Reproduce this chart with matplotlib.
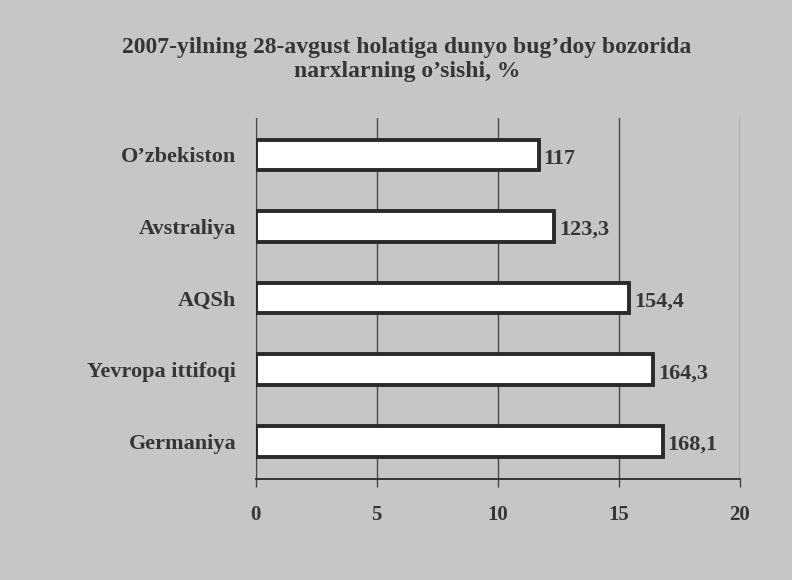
import numpy as np
import matplotlib.pyplot as plt

# Data
countries = ["O’zbekiston", "Avstraliya", "AQSh", "Yevropa ittifoqi", "Germaniya"]
growth = [117, 123.3, 154.4, 164.3, 168.1]
value_labels = ["117", "123,3", "154,4", "164,3", "168,1"]
x_ticks = [0, 5, 10, 15, 20]

bg = "#c6c6c6"
ink = "#363636"
plt.rcParams["font.family"] = ["Liberation Serif", "DejaVu Serif"]
plt.rcParams["font.weight"] = "bold"

fig = plt.figure(figsize=(7.92, 5.8), dpi=100, facecolor=bg)
ax = fig.add_axes([0.323, 0.174, 0.611, 0.623], facecolor=bg)

# bar lengths on the axis are the values scaled by 10
lengths = np.array(growth) / 10
pos = np.arange(len(countries))
ax.barh(pos, lengths, height=0.43, color="white", edgecolor="#2a2a2a", linewidth=2.8, zorder=3)

for p, l, txt in zip(pos, lengths, value_labels):
    ax.text(l + 0.2, p + 0.05, txt, va="center", ha="left", fontsize=16,
            fontweight="bold", color=ink)

ax.set_xlim(0, 20)
ax.set_ylim(4.53, -0.52)
ax.set_xticks(x_ticks)
ax.set_yticks(pos)
ax.set_yticklabels(countries)
ax.tick_params(axis="y", length=0, pad=14, labelsize=16, labelcolor=ink)
ax.tick_params(axis="x", length=6, width=1, pad=13, labelsize=15, labelcolor=ink,
               color="#444444")

ax.xaxis.grid(True, color="#4a4a4a", linewidth=1)
ax.set_axisbelow(True)
for s in ["top", "right"]:
    ax.spines[s].set_visible(False)
ax.spines["left"].set_color("#4a4a4a")
ax.spines["bottom"].set_color("#333333")
ax.spines["bottom"].set_linewidth(1.4)

fig.text(0.514, 0.897, "2007-yilning 28-avgust holatiga dunyo bug’doy bozorida\nnarxlarning o’sishi, %",
         ha="center", va="center", fontsize=17, fontweight="bold", color=ink,
         linespacing=1.2)

plt.savefig("out.png", dpi=100, facecolor=bg)
